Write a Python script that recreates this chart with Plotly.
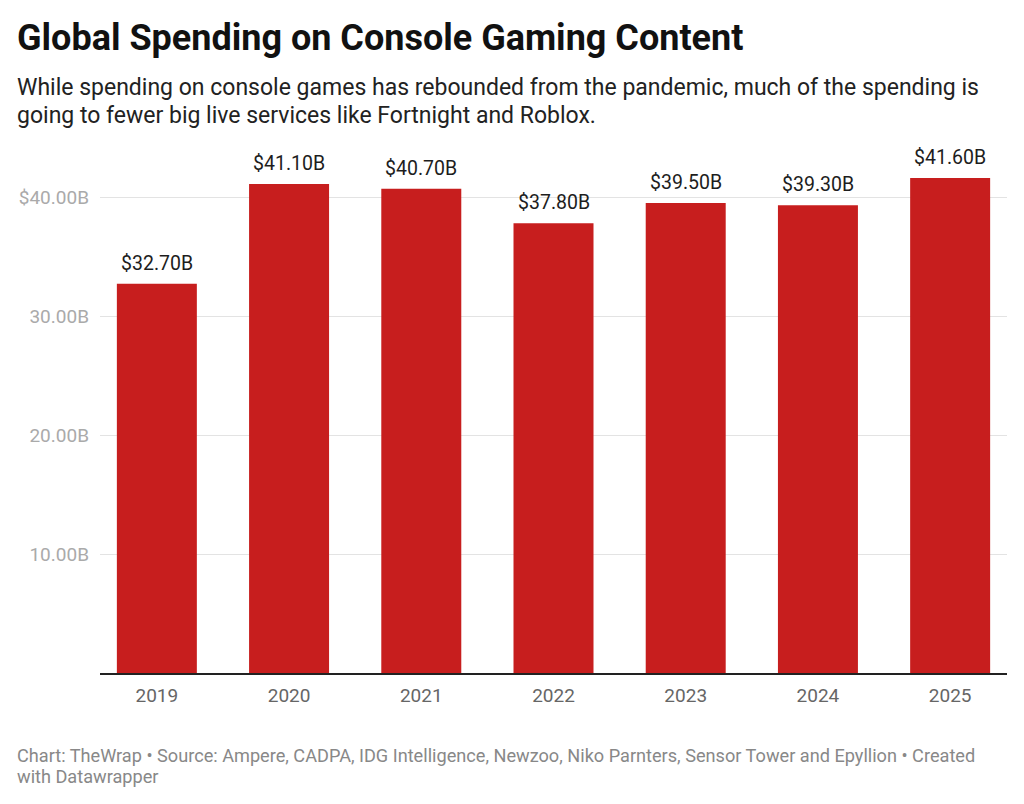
import plotly.graph_objects as go

years = ["2019", "2020", "2021", "2022", "2023", "2024", "2025"]
spending = [32.7, 41.1, 40.7, 37.8, 39.5, 39.3, 41.6]
y_ticks = [10, 20, 30, 40]
y_tick_text = ["10.00B", "20.00B", "30.00B", "$40.00B"]

TITLE = "Global Spending on Console Gaming Content"
SUBTITLE = ["While spending on console games has rebounded from the pandemic, much of the spending is",
            "going to fewer big live services like Fortnight and Roblox."]
FOOTER = ["Chart: TheWrap • Source: Ampere, CADPA, IDG Intelligence, Newzoo, Niko Parnters, Sensor Tower and Epyllion • Created",
          "with Datawrapper"]

# page has an 8px body margin, so the figure is drawn a bit smaller
OFF = 8
W, H = 1024 - OFF, 804 - OFF
# plot area in screen pixels
X0, X1, Y0, Y1 = 100, 1007, 150, 673


def px(x):
    return (x - X0) / (X1 - X0)


def py(y):
    return (Y1 - y) / (Y1 - Y0)


fig = go.Figure()
fig.add_trace(go.Bar(
    x=years, y=spending,
    marker=dict(color="#c71e1e", line=dict(width=0)),
    hoverinfo="skip",
))

# value labels above bars (category index used so "2019" isn't read as a number)
labels = []
for i, v in enumerate(spending):
    labels.append(dict(
        x=i, y=v, xref="x", yref="y", text="$%.2fB" % v, showarrow=False,
        yanchor="bottom", yshift=7,
        font=dict(family="Roboto", size=19.5, color="#1d1d1d"),
    ))


def note(text, x, y, size, color, bold=False):
    if bold:
        text = "<b>" + text + "</b>"
    return dict(text=text, x=px(x), y=py(y), xref="paper", yref="paper",
                xanchor="left", yanchor="middle", showarrow=False, align="left",
                font=dict(family="Roboto", size=size, color=color))


fig.update_layout(
    width=W, height=H,
    margin=dict(l=X0 - OFF, r=W - (X1 - OFF), t=Y0 - OFF, b=H - (Y1 - OFF), autoexpand=False),
    paper_bgcolor="white", plot_bgcolor="white",
    font=dict(family="Roboto", size=19),
    showlegend=False,
    bargap=0.395,
    xaxis=dict(
        type="category", range=[-0.43, 6.43],
        showgrid=False, showline=True, linecolor="#222", linewidth=1.5,
        ticks="", tickfont=dict(size=19, color="#666"), ticklabelstandoff=4,
    ),
    yaxis=dict(
        range=[0, 43.95], tickvals=y_ticks, ticktext=y_tick_text,
        showgrid=True, gridcolor="#e3e3e3", gridwidth=1,
        zeroline=False, showline=False, ticks="",
        tickfont=dict(size=19, color="#aaaaaa"), ticklabelstandoff=10,
    ),
    annotations=labels + [
        note(TITLE, 15, 38, 36, "#111", bold=True),
        note(SUBTITLE[0], 15, 88, 23, "#222"),
        note(SUBTITLE[1], 15, 116, 23, "#222"),
        note(FOOTER[0], 15, 755, 18.15, "#888"),
        note(FOOTER[1], 15, 776, 18.15, "#888"),
    ],
)

fig.write_html("out.html")
